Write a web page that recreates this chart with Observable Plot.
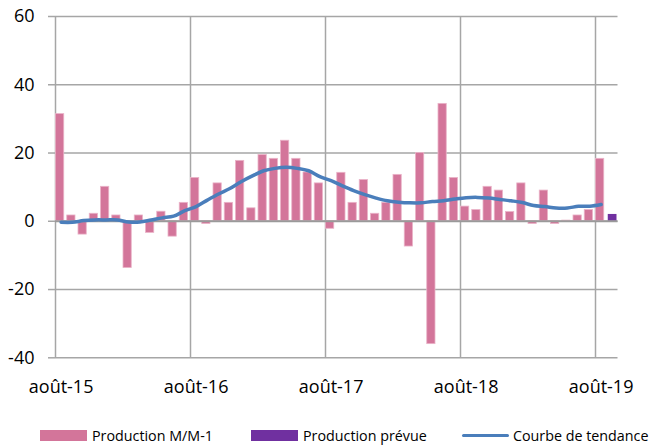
<!DOCTYPE html>
<html><head><meta charset="utf-8">
<script src="https://cdn.jsdelivr.net/npm/d3@7"></script>
<script src="https://cdn.jsdelivr.net/npm/@observablehq/plot@0.6"></script>
<style>
body{margin:0;background:#fff;font-family:"Open Sans",sans-serif;}
#legend{position:relative;height:23px;width:652px;font-size:14.3px;color:#000;}
.item{position:absolute;top:0;height:23px;display:flex;align-items:center;white-space:nowrap;}
.sw{width:47px;height:11px;margin-right:5px;}
.ln{width:47px;height:3.5px;background:#4a7ebb;border-radius:2px;margin-right:4px;}
</style></head>
<body><div id="chart"></div><div id="legend"></div>
<script>
const tickLabels = ["août-15","août-16","août-17","août-18","août-19"];
const production = [31.4, 1.7, -3.9, 2.2, 10.1, 1.7, -13.7, 1.7, -3.4, 2.8, -4.5, 5.4,
  12.7, -0.8, 11.1, 5.4, 17.7, 3.8, 19.4, 18.3, 23.6, 18.3, 14.3, 11.1,
  -2.2, 14.2, 5.4, 12.1, 2.2, 5.4, 13.6, -7.4, 20.0, -36.0, 34.4, 12.7,
  4.3, 3.3, 10.1, 9.0, 2.7, 11.1, -0.8, 9.0, -0.8, 0.2, 1.7, 3.3, 18.3];
const forecast = [2.0];
const trend = [-0.3, -0.3, 0.2, 0.4, 0.4, 0.4, -0.2, -0.2, 0.4, 1.0, 1.5, 3.1,
  4.3, 6.2, 8.0, 9.6, 11.6, 13.3, 14.8, 15.5, 15.8, 15.5, 14.8, 13.1,
  11.9, 10.4, 9.0, 7.8, 6.8, 6.0, 5.6, 5.4, 5.4, 5.8, 6.0, 6.5,
  6.9, 7.0, 6.8, 6.4, 6.0, 5.5, 4.6, 4.3, 3.9, 3.9, 4.4, 4.4, 4.9];
const yTicks = [-40, -20, 0, 20, 40, 60];
const seriesNames = ["Production M/M-1", "Production prévue", "Courbe de tendance"];
const colors = ["#d3759a", "#7030a0", "#4a7ebb"];

const bars = production.map((v, i) => ({i, v}));
const fc = forecast.map((v, k) => ({i: production.length + k, v}));
const tr = trend.map((v, i) => ({i: i + 0.5, v}));
const yearStarts = tickLabels.map((_, k) => k * 12);

const H = 424;
const chart = Plot.plot({
  width: 652, height: H,
  marginLeft: 55, marginRight: 34.5, marginTop: 16, marginBottom: H - 357.3,
  x: {domain: [0, 50]},
  y: {domain: [-40, 60]},
  style: {fontFamily: "Open Sans", fontSize: "18px", color: "#000", background: "#fff"},
  marks: [
    Plot.ruleY(yTicks, {stroke: "#a6a6a6", strokeWidth: 1.5}),
    Plot.ruleX(yearStarts, {stroke: "#a6a6a6", strokeWidth: 1.5}),
    Plot.axisY({ticks: yTicks, tickFormat: d => String(d), tickSize: 7, tickPadding: 14, stroke: "#a6a6a6", strokeWidth: 1.5, fontSize: 18, label: null}),
    Plot.axisX({ticks: yearStarts.map(t => t + 0.5), tickFormat: d => tickLabels[Math.round((d - 0.5) / 12)], tickSize: 0, tickPadding: 22.6, fontSize: 18, label: null}),
    Plot.rectY(bars, {x1: "i", x2: d => d.i + 1, y: "v", fill: colors[0], stroke: "#eab3c8", strokeWidth: 0.8, insetLeft: 0.5, insetRight: 2.5}),
    Plot.rectY(fc, {x1: "i", x2: d => d.i + 1, y: "v", fill: colors[1], insetLeft: 1.5, insetRight: 1}),
    Plot.ruleY([0], {stroke: "#9a9a9a", strokeWidth: 2}),
    Plot.lineY(tr, {x: "i", y: "v", stroke: colors[2], strokeWidth: 3.5, curve: "catmull-rom"})
  ]
});
document.getElementById("chart").append(chart);

const legend = document.getElementById("legend");
const lefts = [40, 251, 462];
seriesNames.forEach((name, k) => {
  const it = document.createElement("div");
  it.className = "item";
  it.style.left = lefts[k] + "px";
  const sw = document.createElement("span");
  if (k < 2) { sw.className = "sw"; sw.style.background = colors[k]; }
  else { sw.className = "ln"; }
  const tx = document.createElement("span");
  tx.textContent = name;
  it.append(sw, tx);
  legend.append(it);
});
</script>
</body></html>
